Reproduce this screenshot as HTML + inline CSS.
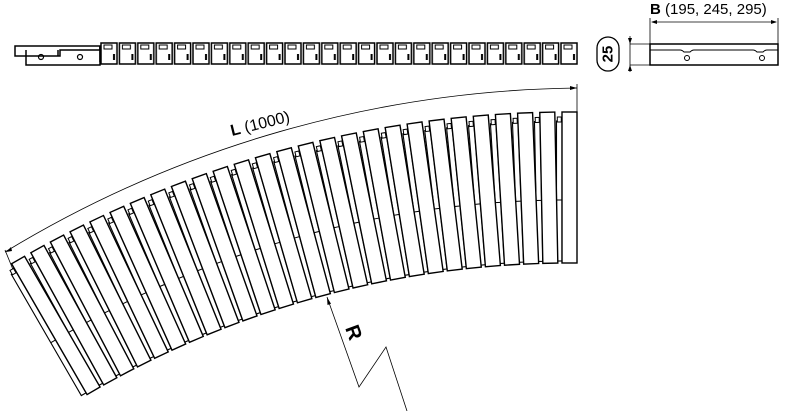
<!DOCTYPE html>
<html><head><meta charset="utf-8"><style>
html,body{margin:0;padding:0;background:#fff;}
svg{display:block;}
text{font-family:"Liberation Sans","DejaVu Sans",sans-serif;fill:#000;}
</style></head><body>
<svg width="800" height="411" viewBox="0 0 800 411" xmlns="http://www.w3.org/2000/svg">
<defs>
<g id="s" fill="#fff" stroke="#000" stroke-width="1.4">
<rect x="556.5" y="121" width="5.5" height="140" stroke-width="1.1"/>
<rect x="557.3" y="117" width="4" height="5" stroke-width="1"/>
<line x1="556.5" y1="200" x2="562" y2="200" stroke-width="1"/>
<rect x="562" y="112" width="15" height="151"/>
</g>
<pattern id="p" x="100" y="40" width="18.4" height="30" patternUnits="userSpaceOnUse">
<rect x="1" y="3" width="16" height="21" fill="#fff" stroke="#000" stroke-width="1.5"/>
<rect x="4" y="5" width="8" height="4" fill="none" stroke="#000" stroke-width="1"/>
<rect x="13" y="14" width="2" height="6" fill="#000"/>
</pattern>
</defs>

<path d="M15 46 H100 V50 H60 V56 H15 Z" fill="#fff" stroke="#000" stroke-width="1.5"/>
<path d="M26 50 V65 H100 V46" fill="none" stroke="#000" stroke-width="1.5"/>
<path d="M58 50 V56 M100 46 V62" stroke="#000" stroke-width="1.5"/>
<circle cx="41" cy="57" r="2.5" fill="none" stroke="#000" stroke-width="1.2"/>
<circle cx="80" cy="57" r="2.5" fill="none" stroke="#000" stroke-width="1.2"/>
<rect x="100" y="40" width="478" height="26" fill="url(#p)"/>

<text x="650" y="14" font-size="15"><tspan font-weight="bold">B</tspan> (195, 245, 295)</text>
<line x1="650" y1="18" x2="650" y2="44" stroke="#000" stroke-width="0.8"/>
<line x1="778" y1="18" x2="778" y2="44" stroke="#000" stroke-width="0.8"/>
<line x1="652" y1="22" x2="776" y2="22" stroke="#000" stroke-width="0.8"/>
<path d="M651 22 l6 -2 v4 Z M777 22 l-6 -2 v4 Z"/>
<rect x="650" y="44" width="128" height="21" fill="#fff" stroke="#000" stroke-width="1.5"/>
<path d="M650 50 H680 Q682 50 684 52 H690 Q692 50 694 50 H753 Q755 50 757 52 H763 Q765 50 767 50 H778" fill="none" stroke="#000" stroke-width="1"/>
<circle cx="687" cy="58" r="2.5" fill="none" stroke="#000"/>
<circle cx="762" cy="58" r="2.5" fill="none" stroke="#000"/>
<line x1="630" y1="44" x2="650" y2="44" stroke="#000" stroke-width="0.8"/>
<line x1="630" y1="65" x2="650" y2="65" stroke="#000" stroke-width="0.8"/>
<line x1="630" y1="36" x2="630" y2="72" stroke="#000" stroke-width="0.8"/>
<path d="M630 44 l-2 -6 h4 Z M630 65 l-2 6 h4 Z"/>
<rect x="597" y="37" width="22" height="34" rx="11" fill="#fff" stroke="#000" stroke-width="1.3"/>
<text x="608" y="54" font-size="15" font-weight="bold" text-anchor="middle" dominant-baseline="central" transform="rotate(-90 608 54)">25</text>

<path d="M5 252 A1127 1127 0 0 1 577 88" fill="none" stroke="#000" stroke-width="0.8"/>
<line x1="577" y1="84" x2="577" y2="112" stroke="#000" stroke-width="0.8"/>
<line x1="5" y1="250" x2="14" y2="272" stroke="#000" stroke-width="0.8"/>
<path d="M577 88 l-7 -2 v4 Z M6 252 l5 -5 l1 4 Z"/>
<text x="232" y="136" font-size="16" transform="rotate(-14 232 136)"><tspan font-weight="bold">L</tspan> (1000)</text>

<use href="#s"/>
<use href="#s" transform="rotate(-1.154 570 1215)"/>
<use href="#s" transform="rotate(-2.308 570 1215)"/>
<use href="#s" transform="rotate(-3.462 570 1215)"/>
<use href="#s" transform="rotate(-4.615 570 1215)"/>
<use href="#s" transform="rotate(-5.769 570 1215)"/>
<use href="#s" transform="rotate(-6.923 570 1215)"/>
<use href="#s" transform="rotate(-8.077 570 1215)"/>
<use href="#s" transform="rotate(-9.231 570 1215)"/>
<use href="#s" transform="rotate(-10.385 570 1215)"/>
<use href="#s" transform="rotate(-11.538 570 1215)"/>
<use href="#s" transform="rotate(-12.692 570 1215)"/>
<use href="#s" transform="rotate(-13.846 570 1215)"/>
<use href="#s" transform="rotate(-15 570 1215)"/>
<use href="#s" transform="rotate(-16.154 570 1215)"/>
<use href="#s" transform="rotate(-17.308 570 1215)"/>
<use href="#s" transform="rotate(-18.462 570 1215)"/>
<use href="#s" transform="rotate(-19.615 570 1215)"/>
<use href="#s" transform="rotate(-20.769 570 1215)"/>
<use href="#s" transform="rotate(-21.923 570 1215)"/>
<use href="#s" transform="rotate(-23.077 570 1215)"/>
<use href="#s" transform="rotate(-24.231 570 1215)"/>
<use href="#s" transform="rotate(-25.385 570 1215)"/>
<use href="#s" transform="rotate(-26.538 570 1215)"/>
<use href="#s" transform="rotate(-27.692 570 1215)"/>
<use href="#s" transform="rotate(-28.846 570 1215)"/>
<use href="#s" transform="rotate(-30 570 1215)"/>

<polyline points="327,297 359,387 386,347 407,411" fill="none" stroke="#000" stroke-width="0.8"/>
<path d="M327 297 l0.5 8 l3.5 -1.3 Z"/>
<text x="345" y="328" font-size="20" font-weight="bold" transform="rotate(70 345 328)">R</text>
</svg>
</body></html>
